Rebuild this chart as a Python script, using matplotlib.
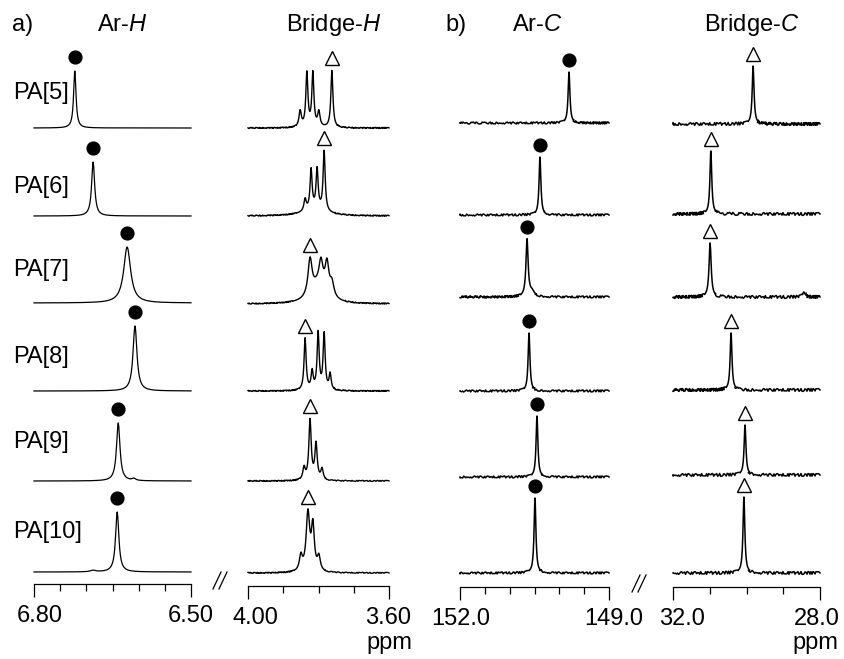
import numpy as np
import matplotlib
matplotlib.use("Agg")
import matplotlib.pyplot as plt
from matplotlib.lines import Line2D
from matplotlib.transforms import ScaledTranslation

plt.rcParams["font.family"] = ["Liberation Sans", "DejaVu Sans"]
plt.rcParams["mathtext.fontset"] = "custom"
plt.rcParams["mathtext.rm"] = "Liberation Sans"
plt.rcParams["mathtext.it"] = "Liberation Sans:italic"

samples = ["PA[5]", "PA[6]", "PA[7]", "PA[8]", "PA[9]", "PA[10]"]

# peak lists per sample: shift (ppm), intensity, half width at half height (ppm)
# aromatic 1H
arh_shift = [[6.722], [6.687], [6.622], [6.607], [6.639, 6.609], [6.641, 6.687]]
arh_height = [[57], [54], [56], [65], [58, 2], [60, 1.5]]
arh_hwhm = [[0.0028], [0.0035], [0.008], [0.0045], [0.004, 0.004], [0.0038, 0.006]]
arh_mark = [0, 0, 0, 0, 0, 0]

# bridge 1H multiplets
brh_shift = [
    [3.852, 3.833, 3.816, 3.799, 3.762],
    [3.838, 3.821, 3.804, 3.784, 3.810],
    [3.824, 3.793, 3.776, 3.762, 3.800],
    [3.838, 3.818, 3.801, 3.784, 3.767],
    [3.841, 3.824, 3.807, 3.790],
    [3.850, 3.830, 3.816, 3.799],
]
brh_height = [
    [16, 54, 54, 15, 57],
    [12, 40, 40, 60, 6],
    [36, 24, 30, 14, 18],
    [52, 18, 57, 56, 16],
    [12, 60, 36, 11],
    [15, 58, 44, 14],
]
brh_hwhm = [
    [0.004, 0.0035, 0.0035, 0.004, 0.0035],
    [0.004, 0.0035, 0.0035, 0.0035, 0.04],
    [0.007, 0.0065, 0.0065, 0.007, 0.025],
    [0.0035, 0.0035, 0.0035, 0.0035, 0.0035],
    [0.004, 0.004, 0.004, 0.004],
    [0.005, 0.006, 0.005, 0.005],
]
brh_mark = [4, 3, 0, 0, 1, 1]

# aromatic 13C
arc_shift = [[149.805], [150.39], [150.65, 150.55], [150.61], [150.45], [150.49]]
arc_height = [[51], [58], [57, 5], [58], [61], [75]]
arc_hwhm = [[0.022], [0.022], [0.026, 0.06], [0.022], [0.022], [0.022]]
arc_mark = [0, 0, 0, 0, 0, 0]

# bridge 13C
brc_shift = [[29.82], [30.97], [30.99, 28.44], [30.42], [30.04], [30.07]]
brc_height = [[58], [63], [54, 5], [57], [50], [76]]
brc_hwhm = [[0.03], [0.03], [0.035, 0.04], [0.03], [0.03], [0.03]]
brc_mark = [0, 0, 0, 0, 0, 0]

W, H = 845, 659


def fx(px):
    return px / W


def fy(py):
    return 1 - py / H


def lorentz(x, shifts, heights, widths):
    y = np.zeros_like(np.asarray(x, dtype=float))
    for s, h, w in zip(shifts, heights, widths):
        y = y + h * w ** 2 / ((x - s) ** 2 + w ** 2)
    return y


def draw_trace(ax, x, y, off, lw, noise):
    """Baseline parts get the rough sketch look, peaks stay clean."""
    if noise <= 0:
        ax.plot(x, y + off, color="black", lw=lw, clip_on=False)
        return
    mask = y > 3.0
    edges = np.flatnonzero(np.diff(mask.astype(int))) + 1
    bounds = np.concatenate([[0], edges, [len(x) - 1]])
    for a, b in zip(bounds[:-1], bounds[1:]):
        seg, = ax.plot(x[a:b + 1], y[a:b + 1] + off, color="black", lw=lw,
                       clip_on=False, solid_joinstyle="round")
        if not mask[a]:
            seg.set_sketch_params(scale=noise, length=2.4, randomness=3)


columns = [
    dict(sh=arh_shift, ht=arh_height, wd=arh_hwhm, mark=arh_mark, marker="o",
         xlim=(6.80, 6.50), px=(34, 191), spine=584,
         base=[128, 216, 303, 391, 481, 572], gap=14,
         major=[6.80, 6.50], labels=["6.80", "6.50"],
         minor=[6.75, 6.70, 6.65, 6.60, 6.55], label_dx=[6, 0],
         noise=0.0, lw=0.9),
    dict(sh=brh_shift, ht=brh_height, wd=brh_hwhm, mark=brh_mark, marker="^",
         xlim=(4.00, 3.60), px=(248, 389), spine=586,
         base=[128, 216, 304, 391, 481, 573], gap=12,
         major=[4.00, 3.60], labels=["4.00", "3.60"],
         minor=[3.90, 3.80, 3.70], label_dx=[7, -1],
         noise=0.5, lw=1.0),
    dict(sh=arc_shift, ht=arc_height, wd=arc_hwhm, mark=arc_mark, marker="o",
         xlim=(152.0, 149.0), px=(460, 609), spine=587,
         base=[123, 215, 297, 391, 477, 573], gap=12,
         major=[152.0, 149.0], labels=["152.0", "149.0"],
         minor=[151.5, 151.0, 150.5, 150.0, 149.5], label_dx=[1, 5],
         noise=1.0, lw=1.1),
    dict(sh=brc_shift, ht=brc_height, wd=brc_hwhm, mark=brc_mark, marker="^",
         xlim=(32.0, 28.0), px=(673, 820), spine=587,
         base=[124, 214, 297, 390, 475, 573], gap=12,
         major=[32.0, 28.0], labels=["32.0", "28.0"],
         minor=[31.0, 30.0, 29.0], label_dx=[9, -3],
         noise=1.4, lw=1.1),
]

fig = plt.figure(figsize=(W / 100, H / 100), dpi=100)

for col in columns:
    x0, x1 = col["px"]
    spine = col["spine"]
    ax = fig.add_axes([fx(x0), fy(spine), (x1 - x0) / W, spine / H])
    ax.set_xlim(*col["xlim"])
    ax.set_ylim(0, spine)

    lo, hi = col["xlim"]
    for i in range(len(samples)):
        peaks = col["sh"][i]
        x = np.unique(np.concatenate([np.linspace(lo, hi, 2 * (x1 - x0)), peaks]))
        y = lorentz(x, peaks, col["ht"][i], col["wd"][i])
        off = spine - col["base"][i]
        draw_trace(ax, x, y, off, col["lw"], col["noise"])

        k = col["mark"][i]
        xm = peaks[k]
        ym = lorentz(np.array([xm]), peaks, col["ht"][i], col["wd"][i])[0] + off + col["gap"]
        if col["marker"] == "o":
            ax.plot([xm], [ym], marker="o", ms=9.2, color="black", clip_on=False)
        else:
            ax.plot([xm], [ym], marker="^", ms=10, mfc="white", mec="black",
                    mew=1.0, clip_on=False)

    ax.set_xticks(col["major"], col["labels"])
    ax.set_xticks(col["minor"], minor=True)
    ax.tick_params(axis="x", which="major", direction="out", length=9.4,
                   width=0.9, pad=6, labelsize=17)
    ax.tick_params(axis="x", which="minor", direction="out", length=4.7, width=0.9)
    ax.set_yticks([])
    for side in ("left", "right", "top"):
        ax.spines[side].set_visible(False)
    ax.spines["bottom"].set_linewidth(0.9)
    ax.patch.set_visible(False)
    for lab, dx in zip(ax.get_xticklabels(), col["label_dx"]):
        lab.set_transform(lab.get_transform() + ScaledTranslation(dx / 100, 0, fig.dpi_scale_trans))

# headings
fig.text(fx(12), fy(25), "a)", ha="left", va="center", fontsize=17)
fig.text(fx(122), fy(25), r"Ar-$\mathit{H}$", ha="center", va="center", fontsize=17)
fig.text(fx(334), fy(25), r"Bridge-$\mathit{H}$", ha="center", va="center", fontsize=17)
fig.text(fx(445), fy(25), "b)", ha="left", va="center", fontsize=17)
fig.text(fx(537), fy(25), r"Ar-$\mathit{C}$", ha="center", va="center", fontsize=17)
fig.text(fx(752), fy(25), r"Bridge-$\mathit{C}$", ha="center", va="center", fontsize=17)

label_y = [93, 187, 270, 357, 442, 532]
for name, yy in zip(samples, label_y):
    fig.text(fx(13), fy(yy), name, ha="left", va="center", fontsize=17)

fig.text(fx(389), fy(632), "ppm", ha="center", va="top", fontsize=17)
fig.text(fx(815), fy(632), "ppm", ha="center", va="top", fontsize=17)

# axis break marks
for xa, ya in [(213, 589), (219, 589), (632, 592), (638, 592)]:
    fig.add_artist(Line2D([fx(xa), fx(xa + 8)], [fy(ya), fy(ya - 17)],
                          transform=fig.transFigure, color="black", lw=0.9))

fig.savefig("out.png", dpi=100)
